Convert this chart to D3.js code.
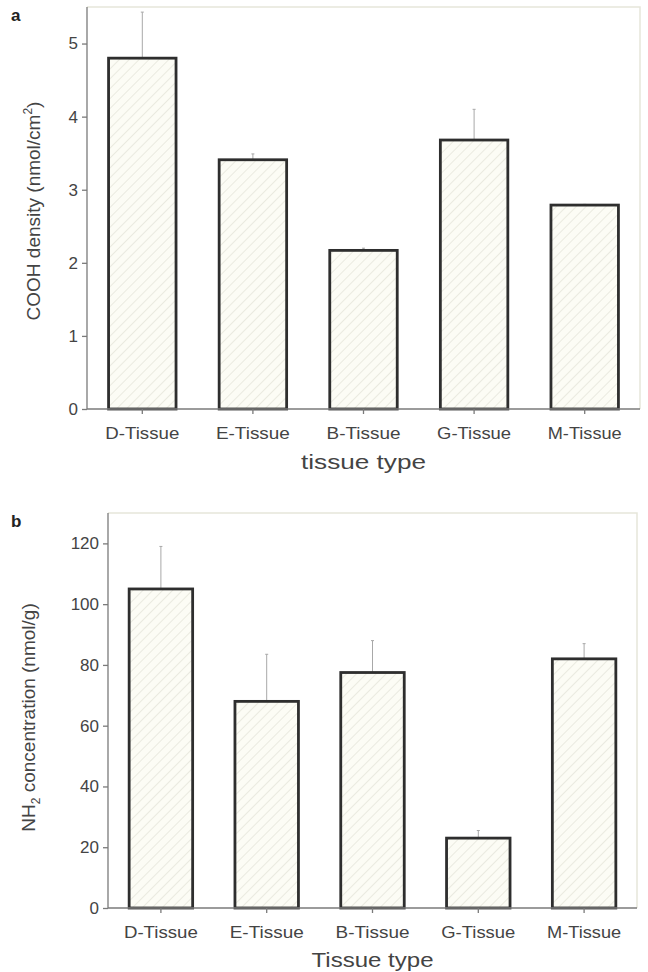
<!DOCTYPE html>
<html lang="en">
<head>
<meta charset="utf-8">
<title>COOH density and NH2 concentration by tissue type</title>
<script src="https://d3js.org/d3.v7.min.js"></script>
<style>
body { margin: 0; background: #fff; }
svg text { font-family: "Liberation Sans", Arial, sans-serif; fill: #444; }
.axis path, .axis line { stroke: #7a7a7a; stroke-width: 1.3; }
.axis text { font-size: 17px; fill: #444; }
</style>
</head>
<body>
<div id="chart"></div>
<script>

// data
var tissues = ["D-Tissue", "E-Tissue", "B-Tissue", "G-Tissue", "M-Tissue"];
var coohMean = [4.80, 3.41, 2.17, 3.68, 2.79];
var coohErr = [0.63, 0.08, 0.03, 0.42, 0.01];
var nh2Mean = [105, 68, 77.5, 23, 82];
var nh2Err = [14, 15.5, 10.5, 2.5, 5];
var ticksA = [0, 1, 2, 3, 4, 5];
var ticksB = [0, 20, 40, 60, 80, 100, 120];

var W = 648, H = 972;

var svg = d3.select("#chart").append("svg")
    .attr("width", W)
    .attr("height", H);

// hatch pattern for bars
var pat = svg.append("defs").append("pattern")
    .attr("id", "hatch")
    .attr("patternUnits", "userSpaceOnUse")
    .attr("width", 7)
    .attr("height", 7)
    .attr("patternTransform", "rotate(45)");
pat.append("rect").attr("width", 7).attr("height", 7).attr("fill", "#fcfcf5");
pat.append("line")
    .attr("x1", 0).attr("y1", 0).attr("x2", 0).attr("y2", 7)
    .attr("stroke", "#d9d9cb").attr("stroke-width", 1);

function drawPanel(opt) {
  var g = svg.append("g");

  var x = d3.scaleBand().domain(tissues)
      .range([opt.left, opt.right])
      .paddingInner(opt.pad).paddingOuter(opt.pad / 2);
  var y = d3.scaleLinear().domain(opt.domain).range([opt.bottom, opt.top]);

  // frame (top and right) - light
  g.append("path")
      .attr("d", "M" + opt.left + "," + opt.top + "H" + opt.right + "V" + opt.bottom)
      .attr("fill", "none")
      .attr("stroke", "#e6e6da")
      .attr("stroke-width", 1.5);

  // error bars (only upper)
  g.selectAll(".err").data(opt.mean).enter().append("line")
      .attr("x1", function(d, i) { return x(tissues[i]) + x.bandwidth() / 2; })
      .attr("x2", function(d, i) { return x(tissues[i]) + x.bandwidth() / 2; })
      .attr("y1", function(d) { return y(d); })
      .attr("y2", function(d, i) { return y(d + opt.err[i]); })
      .attr("stroke", "#a8a8a8")
      .attr("stroke-width", 1);
  g.selectAll(".cap").data(opt.mean).enter().append("line")
      .attr("x1", function(d, i) { return x(tissues[i]) + x.bandwidth() / 2 - 1.5; })
      .attr("x2", function(d, i) { return x(tissues[i]) + x.bandwidth() / 2 + 1.5; })
      .attr("y1", function(d, i) { return y(d + opt.err[i]); })
      .attr("y2", function(d, i) { return y(d + opt.err[i]); })
      .attr("stroke", "#a8a8a8")
      .attr("stroke-width", 1);

  // bars
  g.selectAll(".bar").data(opt.mean).enter().append("rect")
      .attr("x", function(d, i) { return x(tissues[i]); })
      .attr("y", function(d) { return y(d); })
      .attr("width", x.bandwidth())
      .attr("height", function(d) { return y(0) - y(d); })
      .attr("fill", "url(#hatch)")
      .attr("stroke", "#2e2e2e")
      .attr("stroke-width", 2.8);

  // axes
  var yAxis = g.append("g").attr("class", "axis")
      .attr("transform", "translate(" + opt.left + ",0)")
      .call(d3.axisLeft(y).tickValues(opt.ticks).tickFormat(d3.format("d"))
        .tickSize(5).tickSizeOuter(0).tickPadding(4));
  yAxis.select(".domain").attr("d", "M0," + opt.top + "V" + opt.bottom);

  var xAxis = g.append("g").attr("class", "axis")
      .attr("transform", "translate(0," + opt.bottom + ")")
      .call(d3.axisBottom(x).tickSize(5).tickSizeOuter(0).tickPadding(13));
  xAxis.select(".domain").attr("d", "M" + opt.left + ",0H" + opt.right);
  xAxis.selectAll("text")
      .style("font-size", "17px")
      .attr("textLength", opt.tickLen)
      .attr("lengthAdjust", "spacingAndGlyphs");

  // panel letter
  svg.append("text")
      .attr("x", 11).attr("y", opt.letterY)
      .style("font-size", "17px").style("font-weight", "bold").style("fill", "#222")
      .text(opt.letter);

  // x label
  svg.append("text")
      .attr("x", (opt.left + opt.right) / 2).attr("y", opt.xLabelY)
      .attr("text-anchor", "middle")
      .style("font-size", "20px")
      .attr("textLength", opt.xLabelLen)
      .attr("lengthAdjust", "spacingAndGlyphs")
      .text(opt.xLabel);

  return svg.append("text")
      .attr("transform", "translate(" + opt.yLabelX + "," + ((opt.top + opt.bottom) / 2 + opt.yLabelDy) + ")rotate(-90)")
      .attr("text-anchor", "middle")
      .style("font-size", "19px");
}

var labA = drawPanel({
  left: 87, right: 640, top: 7, bottom: 409, pad: 0.39,
  domain: [0, 5.5], ticks: ticksA, mean: coohMean, err: coohErr, tickLen: 74,
  letter: "a", letterY: 21, xLabel: "tissue type", xLabelY: 469, xLabelLen: 125,
  yLabelX: 40, yLabelDy: 3
});
labA.append("tspan").text("COOH density (nmol/cm");
labA.append("tspan").attr("dy", -8).style("font-size", "12px").text("2");
labA.append("tspan").attr("dy", 8).text(")");

var labB = drawPanel({
  left: 108, right: 637, top: 513, bottom: 908, pad: 0.4,
  domain: [0, 130], ticks: ticksB, mean: nh2Mean, err: nh2Err, tickLen: 74,
  letter: "b", letterY: 527, xLabel: "Tissue type", xLabelY: 967, xLabelLen: 122,
  yLabelX: 35, yLabelDy: 7
});
labB.append("tspan").text("NH");
labB.append("tspan").attr("dy", 5).style("font-size", "12px").text("2");
labB.append("tspan").attr("dy", -5).text(" concentration (nmol/g)");

</script>
</body>
</html>
